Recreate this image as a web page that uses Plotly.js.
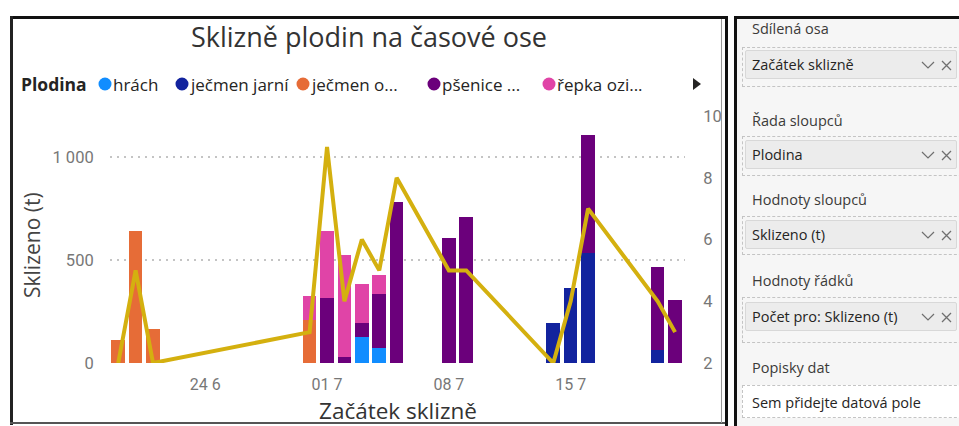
<!DOCTYPE html>
<html>
<head>
<meta charset="utf-8">
<script src="https://cdn.plot.ly/plotly-3.0.1.min.js"></script>
<style>
html,body{margin:0;padding:0;background:#fff;width:959px;height:426px;overflow:hidden;}
#chart{position:absolute;left:0;top:0;width:959px;height:426px;}
.ln{position:absolute;}
#panel{position:absolute;left:734px;top:16px;width:225px;height:410px;background:#f6f6f6;border-left:3px solid #111;border-top:3px solid #111;box-sizing:border-box;}
.lbl{position:absolute;left:752px;font-family:"Segoe UI","Open Sans",sans-serif;font-size:14.5px;color:#3b3a39;line-height:18px;white-space:nowrap;}
.well{position:absolute;left:742px;width:230px;border:1px dashed #c4c4c4;box-sizing:border-box;}
.box{position:absolute;left:745px;width:212px;height:29px;background:#ececec;border:1px solid #d8d8d8;border-radius:2px;box-sizing:border-box;font-family:"Segoe UI","Open Sans",sans-serif;font-size:14.5px;color:#252423;line-height:27px;padding-left:6px;white-space:nowrap;}
.box svg{position:absolute;left:174px;top:8px;}
.empty{position:absolute;left:752px;font-family:"Segoe UI","Open Sans",sans-serif;font-size:14.5px;color:#252423;line-height:18px;white-space:nowrap;}
</style>
</head>
<body>
<div id="chart"></div>

<!-- visual frame -->
<div class="ln" style="left:10px;top:16px;width:718px;height:3px;background:#111;"></div>
<div class="ln" style="left:10px;top:16px;width:3px;height:409px;background:#222;"></div>
<div class="ln" style="left:10px;top:422px;width:718px;height:2px;background:#555;"></div>
<div class="ln" style="left:721px;top:19px;width:1px;height:404px;background:#999;"></div>
<div class="ln" style="left:725px;top:16px;width:3px;height:410px;background:#111;"></div>

<!-- field wells panel -->
<div id="panel"></div>
<div class="lbl" style="top:20px;">Sdílená osa</div>
<div class="well" style="top:47px;height:40px;"></div>
<div class="box" style="top:50px;">Začátek sklizně</div>

<div class="lbl" style="top:112px;">Řada sloupců</div>
<div class="well" style="top:136px;height:40px;"></div>
<div class="box" style="top:140px;">Plodina</div>

<div class="lbl" style="top:191px;">Hodnoty sloupců</div>
<div class="well" style="top:216px;height:39px;"></div>
<div class="box" style="top:220px;">Sklizeno (t)</div>

<div class="lbl" style="top:272px;">Hodnoty řádků</div>
<div class="well" style="top:297px;height:46px;"></div>
<div class="box" style="top:302px;">Počet pro: Sklizeno (t)</div>

<div class="lbl" style="top:359px;">Popisky dat</div>
<div class="well" style="top:385px;height:33px;background:#fff;"></div>
<div class="empty" style="top:394px;">Sem přidejte datová pole</div>

<script>
// add the chevron / close icons to each field box
document.querySelectorAll('.box').forEach(b => {
  b.insertAdjacentHTML('beforeend',
    '<svg width="34" height="12" viewBox="0 0 34 12"><path d="M2 3 L8 9 L14 3" fill="none" stroke="#6f6f6f" stroke-width="1.2"/>' +
    '<path d="M22 2 L31 11 M31 2 L22 11" fill="none" stroke="#6f6f6f" stroke-width="1.3"/></svg>');
});

// ---- data ----
const dates = ['2023-06-19','2023-06-20','2023-06-21','2023-06-30','2023-07-01','2023-07-02','2023-07-03','2023-07-04','2023-07-05','2023-07-08','2023-07-09','2023-07-14','2023-07-15','2023-07-16','2023-07-20','2023-07-21'];
const cropNames = ['hrách','ječmen jarní','ječmen ozimý','pšenice ozimá','řepka ozimá'];
const legendLabels = ['hrách','ječmen jarní','ječmen o...','pšenice ...','řepka ozi...'];
const hrach       = [null,null,null,null,null,null,127,73,null,null,null,null,null,null,null,null];
const jecmenJarni = [null,null,null,null,null,null,null,null,null,null,null,192,363,533,62,null];
const jecmenOzimy = [113,641,167,210,null,null,null,null,null,null,null,null,null,null,null,null];
const psenice     = [null,null,null,null,317,30,65,260,782,609,709,null,null,575,402,308];
const repka       = [null,null,null,115,325,497,193,94,null,null,null,null,null,null,null,null];
const countValues = [2,5,2,3,9,4,6,5,8,5,5,2,4,7,4,3];
const leftTicks = [0,500,1000];
const rightTicks = [2,4,6,8,10];

// ---- styles ----
const colors = ['#118DFF','#12239E','#E66C37','#6B007B','#E044A7'];
const lineColor = '#D4B00F';
const uiFont = '"Segoe UI","Open Sans",sans-serif';
const tickFont = 'Roboto, "Open Sans", sans-serif';
const L = 110, R = 685, T = 116, B = 363;
const px2x = p => (p - L) / (R - L);
const px2y = p => (B - p) / (B - T);

const series = [hrach, jecmenJarni, jecmenOzimy, psenice, repka];
const traces = series.map((vals, i) => ({
  type: 'bar', x: dates, y: vals, name: cropNames[i],
  marker: {color: colors[i], line: {width: 0}},
  showlegend: false, hoverinfo: 'skip'
}));
traces.push({
  type: 'scatter', mode: 'lines', x: dates, y: countValues, yaxis: 'y2',
  name: 'Počet pro: Sklizeno (t)', line: {color: lineColor, width: 4},
  showlegend: false, hoverinfo: 'skip'
});

// legend built from annotations + shapes
const legendCircleX = [105, 182, 303, 434, 549];
const legendY = 84;
const annotations = [
  {xref:'paper', yref:'paper', x: px2x(19), y: px2y(legendY), xanchor:'left', yanchor:'middle',
   text:'<b>Plodina</b>', showarrow:false, font:{family:uiFont, size:17.5, color:'#252423'}},
  {xref:'paper', yref:'paper', x: px2x(32), y: px2y(245), xanchor:'center', yanchor:'middle',
   text:'Sklizeno (t)', textangle:-90, showarrow:false, font:{family:uiFont, size:21, color:'#444'}},
  {xref:'paper', yref:'paper', x: px2x(398), y: px2y(410), xanchor:'center', yanchor:'middle',
   text:'Začátek sklizně', showarrow:false, font:{family:uiFont, size:22.5, color:'#333'}}
];
const shapes = [];
legendLabels.forEach((lab, i) => {
  annotations.push({xref:'paper', yref:'paper', x: px2x(legendCircleX[i] + 6), y: px2y(legendY),
    xanchor:'left', yanchor:'middle', text: lab, showarrow:false,
    font:{family:uiFont, size:17, color:'#252423'}});
  shapes.push({type:'circle', xref:'paper', yref:'paper', xsizemode:'pixel', ysizemode:'pixel',
    xanchor: px2x(legendCircleX[i]), yanchor: px2y(legendY), x0:-6.5, x1:6.5, y0:-6.5, y1:6.5,
    fillcolor: colors[i], line:{width:0}});
});
shapes.push({type:'path', xref:'paper', yref:'paper', xsizemode:'pixel', ysizemode:'pixel',
  xanchor: px2x(697), yanchor: px2y(legendY), path:'M -4 -6 L 4 0 L -4 6 Z',
  fillcolor:'#252423', line:{width:0}});

const layout = {
  width: 959, height: 426,
  margin: {l: L, r: 959 - R, t: T, b: 426 - B, pad: 0},
  paper_bgcolor: 'rgba(0,0,0,0)', plot_bgcolor: 'rgba(0,0,0,0)',
  separators: ', ',
  barmode: 'stack', bargap: 0.22,
  showlegend: false,
  title: {text: 'Sklizně plodin na časové ose', xref:'container', yref:'container',
    x: 369/959, y: 1 - 38/426, xanchor:'center', yanchor:'middle',
    font: {family: uiFont, size: 27, color: '#333'}},
  xaxis: {type:'date', range:['2023-06-18 12:40','2023-07-21 13:40'],
    tick0:'2023-06-24', dtick: 7*86400000, tickformat:'%d %-m',
    showgrid:false, zeroline:false, showline:false,
    ticks:'outside', ticklen:7, tickcolor:'rgba(0,0,0,0)',
    tickfont:{family: tickFont, size:16, color:'#777'}},
  yaxis: {range:[0,1200], tickvals: leftTicks, separatethousands: true,
    showgrid:true, gridcolor:'#c4c4c4', griddash:'2px,5px', gridwidth:1.5,
    zeroline:false, showline:false,
    ticks:'outside', ticklen:12, tickcolor:'rgba(0,0,0,0)',
    tickfont:{family: tickFont, size:16.5, color:'#777'}},
  yaxis2: {range:[2,10], tickvals: rightTicks, overlaying:'y', side:'right',
    showgrid:false, zeroline:false, showline:false,
    ticks:'outside', ticklen:14, tickcolor:'rgba(0,0,0,0)',
    tickfont:{family: tickFont, size:16.5, color:'#777'}},
  annotations: annotations,
  shapes: shapes
};

Plotly.newPlot('chart', traces, layout, {staticPlot: true, displayModeBar: false});
</script>
</body>
</html>
